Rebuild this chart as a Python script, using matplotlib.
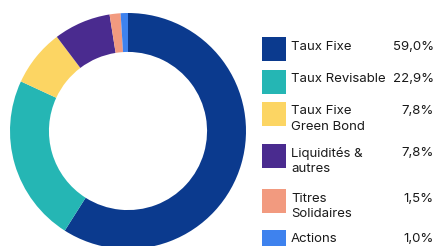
import matplotlib.pyplot as plt
from matplotlib.patches import Rectangle

# données
categories = ["Taux Fixe", "Taux Revisable", "Taux Fixe\nGreen Bond",
              "Liquidités &\nautres", "Titres\nSolidaires", "Actions"]
valeurs = [59.0, 22.9, 7.8, 7.8, 1.5, 1.0]
etiquettes = ["59,0%", "22,9%", "7,8%", "7,8%", "1,5%", "1,0%"]
couleurs = ["#0b3a8e", "#25b6b4", "#fcd563", "#4a2b8f", "#f29a7f", "#3e82ee"]

W, H = 437, 246
fig = plt.figure(figsize=(W / 100, H / 100), dpi=100)

# donut : centre (128,131) px, rayon 118 px
cx, cy, r = 128, 131, 118
ax = fig.add_axes([(cx - r) / W, (H - cy - r) / H, 2 * r / W, 2 * r / H])
ax.pie(valeurs, colors=couleurs, startangle=90, counterclock=False,
       radius=1, wedgeprops=dict(width=0.33, linewidth=0))
ax.set_xlim(-1, 1)
ax.set_ylim(-1, 1)
ax.set_aspect("equal")
ax.axis("off")

# légende en pixels
lg = fig.add_axes([0, 0, 1, 1])
lg.set_xlim(0, W)
lg.set_ylim(H, 0)
lg.axis("off")

hauts = [37, 70, 102, 144, 189, 230]  # haut de chaque carré
police = dict(family=["Inter", "DejaVu Sans"], fontsize=9.5, color="#1a1a1a")
for lab, pct, col, y in zip(categories, etiquettes, couleurs, hauts):
    lg.add_patch(Rectangle((262, y), 24, 24, facecolor=col, edgecolor="none"))
    for i, ligne in enumerate(lab.split("\n")):
        lg.text(291, y + 12.5 + i * 15.5, ligne, va="baseline", ha="left", **police)
    lg.text(434, y + 12.5, pct, va="baseline", ha="right", **police)

fig.savefig("out.png", dpi=100)
